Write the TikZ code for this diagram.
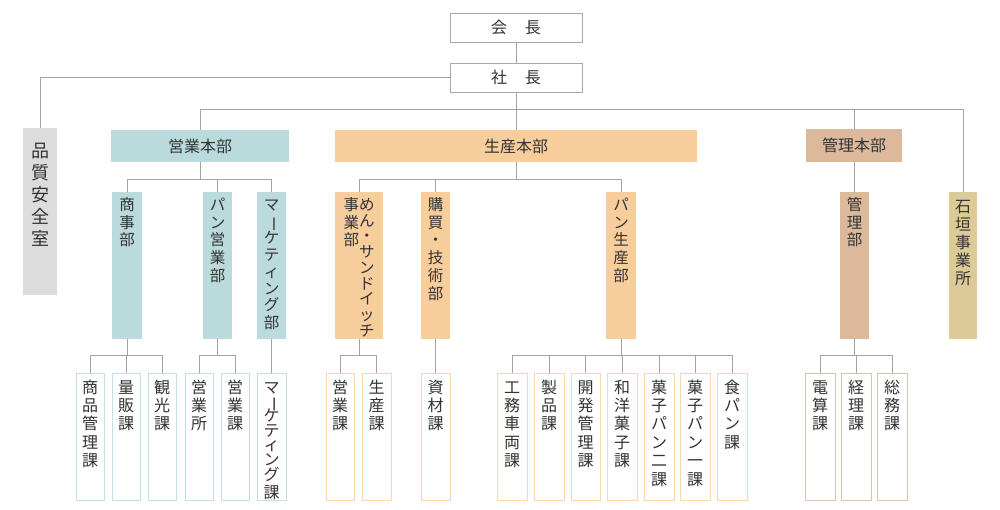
\documentclass[tikz,border=0pt]{standalone}
\usepackage{fontspec}
\usepackage{array}
\setmainfont{Noto Sans CJK JP}
\definecolor{linegray}{HTML}{A3A3A3}
\definecolor{topb}{HTML}{A8A8A8}
\definecolor{tealf}{HTML}{BBDADB}
\definecolor{peachf}{HTML}{F8CD9C}
\definecolor{tanf}{HTML}{DDB99C}
\definecolor{khakif}{HTML}{DCCB96}
\definecolor{grayf}{HTML}{DCDCDC}
\definecolor{tealb}{HTML}{C5E0E1}
\definecolor{peachb}{HTML}{F9D7B0}
\definecolor{tanb}{HTML}{E0C2AE}
\definecolor{txt}{HTML}{333333}
\newcommand\vs[1]{\begin{tabular}[t]{@{}>{\setbox0=\hbox\bgroup}c<{\egroup\smash{\box0}}@{}}#1\end{tabular}}
\newcommand\cho{\rotatebox[origin=c]{-90}{ー}}
\newcommand\bx[6]{\node[boxs,#2,minimum width={(#5-#3)*1pt},minimum height={(#6-#4)*1pt}] (#1) at (#3,#4) {};}
\newcommand\vt[5]{\node[anchor=north,inner sep=0,text=txt,font=#4] (#1) at ([yshift=-#3pt]#2.north) {#5};}
\begin{document}
\begin{tikzpicture}[x=1pt,y=-1pt,
  line/.style={draw=linegray,line width=0.9pt},
  boxs/.style={anchor=north west,inner sep=0,outer sep=0},
  topbox/.style={draw=topb,fill=white,line width=0.9pt},
  teal/.style={fill=tealf},
  peach/.style={fill=peachf},
  tan/.style={fill=tanf},
  khaki/.style={fill=khakif},
  grayb/.style={fill=grayf},
  tealsub/.style={draw=tealb,fill=white,line width=0.9pt},
  peachsub/.style={draw=peachb,fill=white,line width=0.9pt},
  tansub/.style={draw=tanb,fill=white,line width=0.9pt},
  hd/.style={text=txt,font=\fontsize{16}{18}\selectfont}]
\useasboundingbox (0,0) rectangle (1000,510);
% top
\bx{kaicho}{topbox}{450}{13}{582}{42}
\bx{shacho}{topbox}{450}{63}{582}{92}
\node[hd] (tk) at (kaicho.center) {会\hspace{1.1em}長};
\node[hd] (ts) at (shacho.center) {社\hspace{1.1em}長};
% level 1
\bx{hin}{grayb}{23}{128}{57}{295}
\bx{eh}{teal}{111}{130}{289}{162}
\bx{sh}{peach}{335}{130}{697}{162}
\bx{kh}{tan}{806}{129}{902}{162}
\bx{ishi}{khaki}{949}{192}{977}{339}
\node[hd] (teh) at (eh.center) {営業本部};
\node[hd] (tsh) at (sh.center) {生産本部};
\node[hd] (tkh) at (kh.center) {管理本部};
\vt{thin}{hin}{14}{\fontsize{18}{22}\selectfont}{\vs{品\\質\\安\\全\\室}}
\vt{tishi}{ishi}{8}{\fontsize{16}{18}\selectfont}{\vs{石\\垣\\事\\業\\所}}
% level 2
\def\mf{\fontsize{15.5}{17.7}\selectfont}
\bx{shoji}{teal}{112}{192}{142}{339}
\bx{pe}{teal}{203}{192}{232}{339}
\bx{mk}{teal}{257}{192}{286}{339}
\bx{men}{peach}{335}{192}{383}{339}
\bx{kob}{peach}{421}{192}{450}{339}
\bx{ps}{peach}{606}{192}{636}{339}
\bx{kanri}{tan}{840}{192}{869}{339}
\vt{tshoji}{shoji}{6}{\mf}{\vs{商\\事\\部}}
\vt{tpe}{pe}{6}{\mf}{\vs{パ\\ン\\営\\業\\部}}
\vt{tmk}{mk}{6}{\mf}{\vs{マ\\[-1pt]\cho\\[-1pt]ケ\\[-1pt]テ\\[-1pt]ィ\\[-1pt]ン\\[-1pt]グ\\部}}
\vt{tmen}{men}{6}{\mf}{\vs{事\\業\\部}\vs{め\\[-2pt]ん\\[-2pt]・\\[-2pt]サ\\[-2pt]ン\\[-2pt]ド\\[-2pt]イ\\[-2pt]ッ\\[-2pt]チ}}
\vt{tkob}{kob}{6}{\mf}{\vs{購\\買\\・\\技\\術\\部}}
\vt{tps}{ps}{6}{\mf}{\vs{パ\\ン\\生\\産\\部}}
\vt{tkanri}{kanri}{6}{\mf}{\vs{管\\理\\部}}
% level 3
\bx{a1}{tealsub}{76}{373}{104}{500}
\bx{a2}{tealsub}{112}{373}{140}{500}
\bx{a3}{tealsub}{148}{373}{176}{500}
\bx{b1}{tealsub}{185}{373}{213}{500}
\bx{b2}{tealsub}{221}{373}{249}{500}
\bx{c1}{tealsub}{257}{373}{286}{500}
\bx{d1}{peachsub}{326}{373}{354}{500}
\bx{d2}{peachsub}{362}{373}{391}{500}
\bx{e1}{peachsub}{421}{373}{450}{500}
\bx{f1}{peachsub}{497}{373}{527}{500}
\bx{f2}{peachsub}{534}{373}{564}{500}
\bx{f3}{peachsub}{571}{373}{600}{500}
\bx{f4}{peachsub}{607}{373}{637}{500}
\bx{f5}{peachsub}{644}{373}{674}{500}
\bx{f6}{peachsub}{680}{373}{710}{500}
\bx{f7}{peachsub}{717}{373}{747}{500}
\bx{g1}{tansub}{805}{373}{835}{500}
\bx{g2}{tansub}{841}{373}{871}{500}
\bx{g3}{tansub}{877}{373}{907}{500}
\def\lf{\fontsize{16}{18.4}\selectfont}
\vt{ta1}{a1}{7}{\lf}{\vs{商\\品\\管\\理\\課}}
\vt{ta2}{a2}{7}{\lf}{\vs{量\\販\\課}}
\vt{ta3}{a3}{7}{\lf}{\vs{観\\光\\課}}
\vt{tb1}{b1}{7}{\lf}{\vs{営\\業\\所}}
\vt{tb2}{b2}{7}{\lf}{\vs{営\\業\\課}}
\vt{tc1}{c1}{7}{\lf}{\vs{マ\\[-4pt]\cho\\[-4pt]ケ\\[-4pt]テ\\[-4pt]ィ\\[-4pt]ン\\[-3pt]グ\\課}}
\vt{td1}{d1}{7}{\lf}{\vs{営\\業\\課}}
\vt{td2}{d2}{7}{\lf}{\vs{生\\産\\課}}
\vt{te1}{e1}{7}{\lf}{\vs{資\\材\\課}}
\vt{tf1}{f1}{7}{\lf}{\vs{工\\務\\車\\両\\課}}
\vt{tf2}{f2}{7}{\lf}{\vs{製\\品\\課}}
\vt{tf3}{f3}{7}{\lf}{\vs{開\\発\\管\\理\\課}}
\vt{tf4}{f4}{7}{\lf}{\vs{和\\洋\\菓\\子\\課}}
\vt{tf5}{f5}{7}{\lf}{\vs{菓\\子\\パ\\ン\\二\\課}}
\vt{tf6}{f6}{7}{\lf}{\vs{菓\\子\\パ\\ン\\一\\課}}
\vt{tf7}{f7}{7}{\lf}{\vs{食\\パ\\ン\\課}}
\vt{tg1}{g1}{7}{\lf}{\vs{電\\算\\課}}
\vt{tg2}{g2}{7}{\lf}{\vs{経\\理\\課}}
\vt{tg3}{g3}{7}{\lf}{\vs{総\\務\\課}}
% connectors
\draw[line] (kaicho.south) -- (shacho.north);
\draw[line] (shacho.west) -| (hin.north);
\draw[line] (shacho.south) -- (sh.north);
\draw[line] (eh.north) -- (eh.north |- 0,109) -| (ishi.north);
\draw[line] (kh.north) -- (kh.north |- 0,109);
% level 2
\draw[line] (eh.south) -- (eh.south |- 0,179);
\draw[line] (shoji.north) -- (shoji.north |- 0,179) -| (mk.north);
\draw[line] (pe.north) -- (pe.north |- 0,179);
\draw[line] (sh.south) -- (sh.south |- 0,179);
\draw[line] (men.north) -- (men.north |- 0,179) -| (ps.north);
\draw[line] (kob.north) -- (kob.north |- 0,179);
\draw[line] (kanri.north |- kh.south) -- (kanri.north);
% level 3
\draw[line] (shoji.south) -- (shoji.south |- 0,355);
\draw[line] (a1.north) -- (a1.north |- 0,355) -| (a3.north);
\draw[line] (a2.north) -- (a2.north |- 0,355);
\draw[line] (pe.south) -- (pe.south |- 0,355);
\draw[line] (b1.north) -- (b1.north |- 0,355) -| (b2.north);
\draw[line] (mk.south) -- (c1.north);
\draw[line] (men.south) -- (men.south |- 0,355);
\draw[line] (d1.north) -- (d1.north |- 0,355) -| (d2.north);
\draw[line] (kob.south) -- (e1.north);
\draw[line] (ps.south) -- (ps.south |- 0,355);
\draw[line] (f1.north) -- (f1.north |- 0,355) -| (f7.north);
\foreach \n in {f2,f3,f4,f5,f6} \draw[line] (\n.north) -- (\n.north |- 0,355);
\draw[line] (kanri.south) -- (kanri.south |- 0,355);
\draw[line] (g1.north) -- (g1.north |- 0,355) -| (g3.north);
\draw[line] (g2.north) -- (g2.north |- 0,355);
\end{tikzpicture}
\end{document}
